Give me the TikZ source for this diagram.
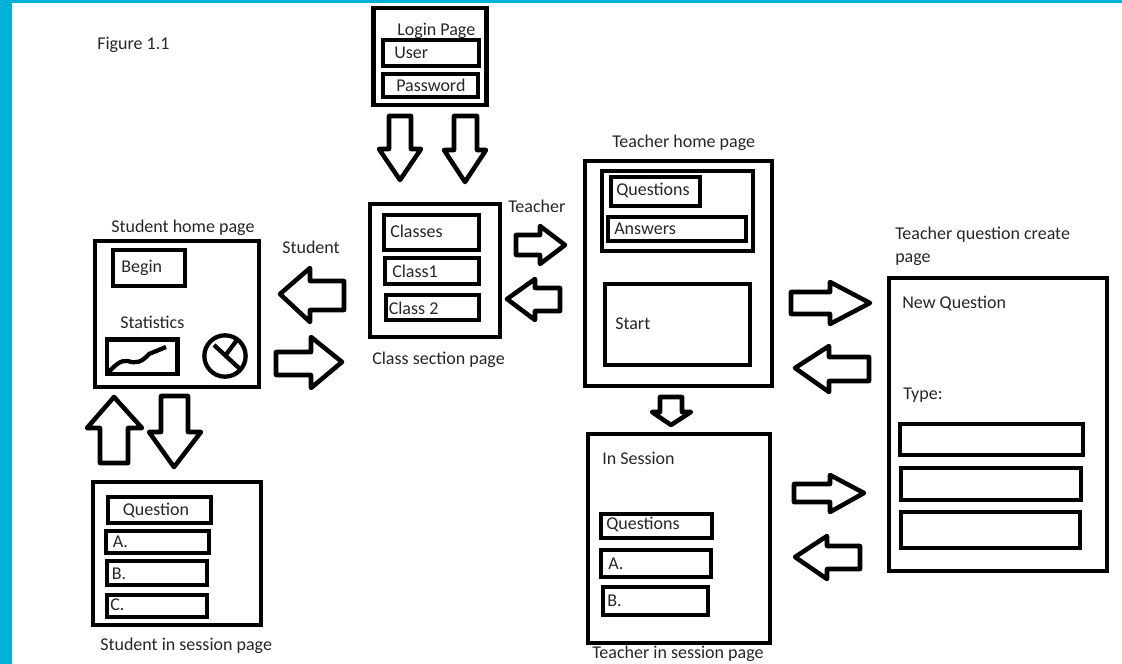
\documentclass[tikz,border=0pt]{standalone}
\usepackage{fontspec}
\setmainfont{Carlito}
\definecolor{stripcol}{RGB}{0,178,216}
\tikzset{
  pagebox/.style={line width=3.7pt,line join=miter},
  fieldbox/.style={line width=3.7pt,line join=miter},
  blockarrow/.style={line width=3.4pt,line join=round},
  lbl/.style={anchor=west,inner sep=0pt,yshift=-1pt,text height=9pt,text depth=3pt,font=\fontsize{13.5}{15}\selectfont,text=black!85}
}
\begin{document}
\begin{tikzpicture}[line cap=butt,x=.75pt,y=-.75pt]
\useasboundingbox (0,0) rectangle (1122,664);
\fill [color=stripcol] (0,0) rectangle (1122,3);
\fill [color=stripcol] (0,0) rectangle (12,664);
% login
\draw [pagebox] (373.5,8) rectangle (486.5,105);
\draw [fieldbox] (383,40) rectangle (479,66);
\draw [fieldbox] (383,74) rectangle (478,97);
\draw [blockarrow] (389,116) -- (411,116) -- (411,149) -- (421,149) -- (400,180) -- (379,149) -- (389,149) -- cycle;
\draw [blockarrow] (454,116) -- (477,116) -- (477,150) -- (486,150) -- (465,182) -- (444,150) -- (454,150) -- cycle;
% classes
\draw [pagebox] (370,204) rectangle (500,337);
\draw [fieldbox] (384,215) rectangle (479,250);
\draw [fieldbox] (385,258) rectangle (479,284);
\draw [fieldbox] (386,295) rectangle (479,320);
\draw [blockarrow] (516,235) -- (540,235) -- (540,226) -- (565,245) -- (540,264) -- (540,255) -- (516,255) -- cycle;
\draw [blockarrow] (560,288) -- (535,288) -- (535,279) -- (507,299) -- (535,320) -- (535,311) -- (560,311) -- cycle;
\draw [blockarrow] (344,281) -- (310,281) -- (310,268) -- (280,294) -- (310,322) -- (310,310) -- (344,310) -- cycle;
\draw [blockarrow] (276,352) -- (311,352) -- (311,337) -- (342,362) -- (311,388) -- (311,375) -- (276,375) -- cycle;
% student home
\draw [pagebox] (95,241) rectangle (259,387);
\draw [fieldbox] (113,250) rectangle (185,286);
\draw [line width=3.2pt,line join=miter] (107,339.5) rectangle (177.5,374);
\draw [line width=3.2pt,line join=round] (108,373) .. controls (116,364) and (121,360) .. (128,361) .. controls (136,364) and (142,362) .. (149,354) -- (166,347);
\draw [line width=3.2pt] (225,356) circle (15.5pt);
\draw [line width=3.2pt] (214,345) -- (240,369);
\draw [line width=3.2pt] (225,356) -- (237,340);
\draw [blockarrow] (114,397) -- (142,428) -- (128,428) -- (128,463) -- (100,463) -- (100,428) -- (87,428) -- cycle;
\draw [blockarrow] (161,396) -- (188,396) -- (188,432) -- (201,432) -- (174,467) -- (149,432) -- (161,432) -- cycle;
% student session
\draw [pagebox] (93,482) rectangle (261,625);
\draw [fieldbox] (108,497) rectangle (211,523);
\draw [fieldbox] (106,531) rectangle (209,553);
\draw [fieldbox] (107,561) rectangle (207,585);
\draw [fieldbox] (107,595) rectangle (207,617);
% teacher home
\draw [pagebox] (585,161) rectangle (772,386);
\draw [fieldbox] (602,171) rectangle (753,251);
\draw [fieldbox] (611,177) rectangle (700,206);
\draw [fieldbox] (608,217) rectangle (746,241);
\draw [fieldbox] (605,284) rectangle (750,365);
\draw [blockarrow] (791,292) -- (830,292) -- (830,282) -- (870,303) -- (830,324) -- (830,314) -- (791,314) -- cycle;
\draw [blockarrow] (869,357) -- (829,357) -- (829,346) -- (795,368) -- (829,392) -- (829,381) -- (869,381) -- cycle;
\draw [blockarrow] (660,397) -- (682,397) -- (682,412) -- (691,412) -- (671,425) -- (652,412) -- (660,412) -- cycle;
% teacher session
\draw [pagebox] (588,434) rectangle (770,643);
\draw [fieldbox] (601,514) rectangle (712,538);
\draw [fieldbox] (601,550) rectangle (711,577);
\draw [fieldbox] (603,587) rectangle (708,615);
\draw [blockarrow] (794,484) -- (830,484) -- (830,475) -- (864,493) -- (830,512) -- (830,502) -- (794,502) -- cycle;
\draw [blockarrow] (860,546) -- (827,546) -- (827,536) -- (795,557) -- (827,579) -- (827,569) -- (860,569) -- cycle;
% question create
\draw [pagebox] (889,278) rectangle (1107,571);
\draw [fieldbox] (900,424) rectangle (1083,455);
\draw [fieldbox] (901,468) rectangle (1081,500);
\draw [fieldbox] (901,512) rectangle (1080,548);
% labels
\node [lbl] (figtitle) at (97,44) {Figure 1.1};
\node [lbl] (logintitle) at (397,30) {Login Page};
\node [lbl] (user) at (394,53) {User};
\node [lbl] (password) at (396,86) {Password};
\node [lbl] (teacherchoice) at (508,207) {Teacher};
\node [lbl] (studentchoice) at (282,248) {Student};
\node [lbl] (classes) at (390,232) {Classes};
\node [lbl] (classone) at (392,272) {Class1};
\node [lbl] (classtwo) at (388.5,309) {Class 2};
\node [lbl] (classtitle) at (372,359) {Class section page};
\node [lbl] (studenttitle) at (111,227) {Student home page};
\node [lbl] (begin) at (121,267) {Begin};
\node [lbl] (stats) at (120,323) {Statistics};
\node [lbl] (question) at (122.5,510) {Question};
\node [lbl] (stua) at (112.5,542) {A.};
\node [lbl] (stub) at (111.5,574) {B.};
\node [lbl] (stuc) at (110,605) {C.};
\node [lbl] (sessiontitle) at (100,645) {Student in session page};
\node [lbl] (teachertitle) at (612,142) {Teacher home page};
\node [lbl] (questions) at (616,190) {Questions};
\node [lbl] (answers) at (614,229) {Answers};
\node [lbl] (start) at (615,324) {Start};
\node [lbl] (createtitle) at (895,234) {Teacher question create};
\node [lbl] (createpage) at (895,257) {page};
\node [lbl] (newquestion) at (902,303) {New Question};
\node [lbl] (typelbl) at (903,394) {Type:};
\node [lbl] (insession) at (602,459) {In Session};
\node [lbl] (tquestions) at (606,524) {Questions};
\node [lbl] (teaa) at (608,564) {A.};
\node [lbl] (teab) at (607,601) {B.};
\node [lbl] (tsessiontitle) at (592,653) {Teacher in session page};
\end{tikzpicture}
\end{document}
